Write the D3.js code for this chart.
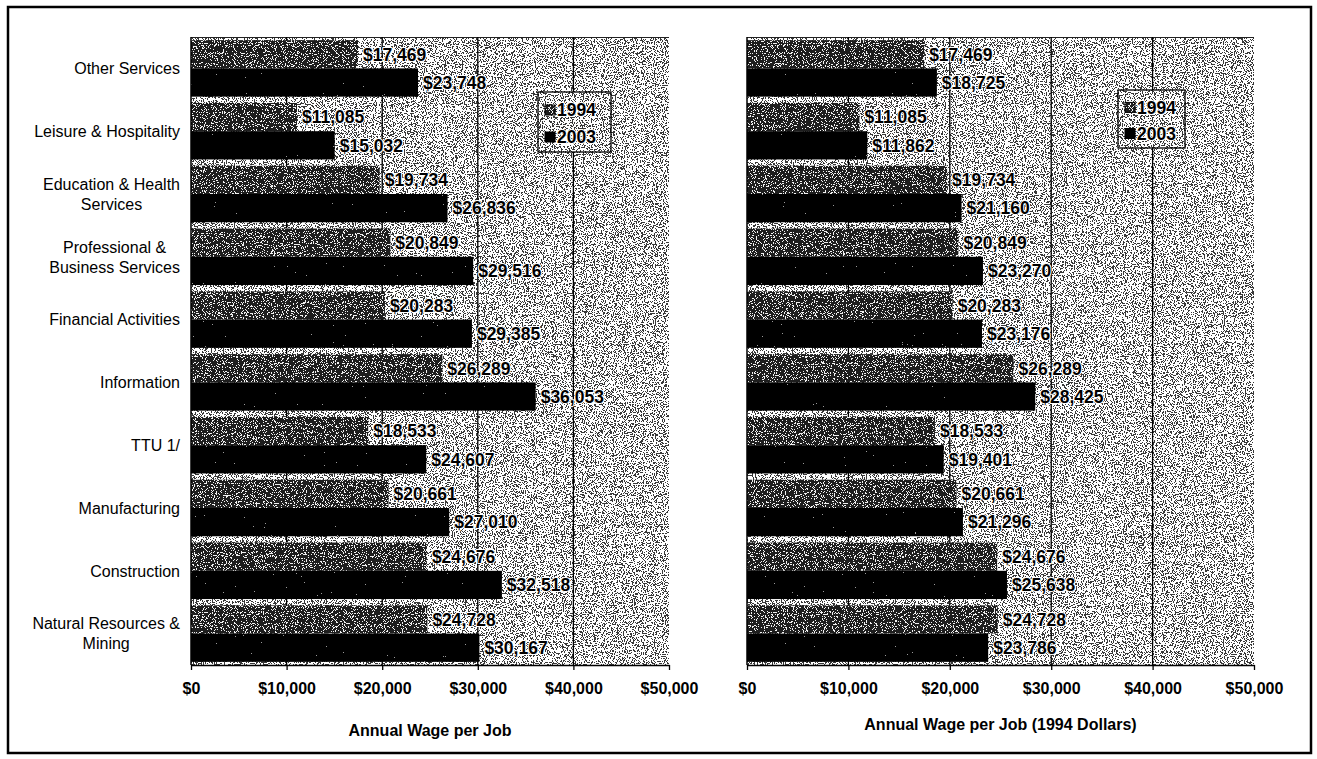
<!DOCTYPE html>
<html>
<head>
<meta charset="utf-8">
<script src="https://cdn.jsdelivr.net/npm/d3@7"></script>
<style>
  html, body { margin: 0; padding: 0; background: #fff; }
  svg { display: block; font-family: "Liberation Sans", Arial, sans-serif; }
</style>
</head>
<body>
<svg id="chart" width="1317" height="759"></svg>
<script>
// Industry categories (top to bottom) and their wrapped label lines
const categories = [
  "Other Services", "Leisure & Hospitality", "Education & Health Services",
  "Professional & Business Services", "Financial Activities", "Information",
  "TTU 1/", "Manufacturing", "Construction", "Natural Resources & Mining"
];
const categoryLines = [
  ["Other Services"], ["Leisure & Hospitality"], ["Education & Health", "Services"],
  ["Professional &", "Business Services"], ["Financial Activities"], ["Information"],
  ["TTU 1/"], ["Manufacturing"], ["Construction"], ["Natural Resources &", "Mining"]
];

// Annual wage per job, current dollars
const wage1994 = [17469, 11085, 19734, 20849, 20283, 26289, 18533, 20661, 24676, 24728];
const wage2003 = [23748, 15032, 26836, 29516, 29385, 36053, 24607, 27010, 32518, 30167];

// Annual wage per job, 1994 dollars
const real1994 = [17469, 11085, 19734, 20849, 20283, 26289, 18533, 20661, 24676, 24728];
const real2003 = [18725, 11862, 21160, 23270, 23176, 28425, 19401, 21296, 25638, 23786];

const seriesNames = ["1994", "2003"];
const tickValues = [0, 10000, 20000, 30000, 40000, 50000];
const axisTitles = ["Annual Wage per Job", "Annual Wage per Job (1994 Dollars)"];

const svg = d3.select("#chart");
const fmt = d => "$" + d3.format(",")(d);

// Stippled fills: thresholded noise clipped to each shape
const defs = svg.append("defs");
function grain(id, cut, dark, light, seed) {
  const f = defs.append("filter").attr("id", id)
    .attr("x", 0).attr("y", 0).attr("width", 1).attr("height", 1)
    .attr("color-interpolation-filters", "sRGB");
  f.append("feTurbulence").attr("type", "fractalNoise")
    .attr("baseFrequency", 0.9).attr("numOctaves", 2).attr("seed", seed).attr("result", "n");
  f.append("feColorMatrix").attr("in", "n").attr("type", "matrix")
    .attr("values", "1 0 0 0 0  1 0 0 0 0  1 0 0 0 0  0 0 0 0 1").attr("result", "g");
  const steps = 40;
  const table = d3.range(steps).map(i => (i / steps < cut ? dark : light)).join(" ");
  const ct = f.append("feComponentTransfer").attr("in", "g").attr("result", "t");
  ["feFuncR", "feFuncG", "feFuncB"].forEach(fn =>
    ct.append(fn).attr("type", "discrete").attr("tableValues", table));
  f.append("feComposite").attr("in", "t").attr("in2", "SourceGraphic").attr("operator", "in");
}
grain("grainBg", 0.43, 0.22, 1.0, 3);
grain("grain94", 0.58, 0.12, 0.95, 7);
grain("grain03", 0.82, 0.0, 0.6, 11);

// Outer frame
svg.append("rect").attr("x", 8).attr("y", 7).attr("width", 1303).attr("height", 746)
  .attr("fill", "none").attr("stroke", "#000").attr("stroke-width", 2.5);

const yTop = 37, yBot = 665;

function panel(opts) {
  const { x0, x1, v94, v03, title, legend, showCats } = opts;
  const x = d3.scaleLinear().domain([0, 50000]).range([x0, x1]);
  const y = d3.scaleBand().domain(categories).range([yTop, yBot])
    .paddingInner(0.1).paddingOuter(0.05);
  const bh = y.bandwidth() / 2;
  const g = svg.append("g");

  // plot area
  g.append("rect").attr("x", x0).attr("y", yTop).attr("width", x1 - x0).attr("height", yBot - yTop)
    .attr("fill", "#fff").attr("filter", "url(#grainBg)");
  g.append("line").attr("x1", x0).attr("x2", x1).attr("y1", yTop + 0.5).attr("y2", yTop + 0.5)
    .attr("stroke", "#222").attr("stroke-width", 1);

  // gridlines
  g.selectAll("line.grid").data(tickValues.slice(1, -1)).join("line").attr("class", "grid")
    .attr("x1", d => x(d)).attr("x2", d => x(d)).attr("y1", yTop).attr("y2", yBot)
    .attr("stroke", "#000").attr("stroke-width", 1.3);

  // bars
  const rows = categories.map((c, i) => ({ c, a: v94[i], b: v03[i] }));
  g.selectAll("rect.b94").data(rows).join("rect").attr("class", "b94")
    .attr("x", x(0)).attr("y", d => y(d.c)).attr("width", d => x(d.a) - x(0)).attr("height", bh)
    .attr("fill", "#fff").attr("filter", "url(#grain94)");
  g.selectAll("rect.b03").data(rows).join("rect").attr("class", "b03")
    .attr("x", x(0)).attr("y", d => y(d.c) + bh).attr("width", d => x(d.b) - x(0)).attr("height", bh)
    .attr("fill", "#fff").attr("filter", "url(#grain03)");

  // value labels
  const lbl = (sel, acc, off) => sel
    .attr("x", d => x(acc(d)) + 5).attr("y", d => y(d.c) + off + bh / 2).attr("dy", "0.36em")
    .attr("font-size", 17.5).attr("font-weight", "bold").attr("fill", "#000")
    .attr("stroke", "#fff").attr("stroke-width", 2).attr("paint-order", "stroke")
    .attr("stroke-linejoin", "round")
    .text(d => fmt(acc(d)));
  g.selectAll("text.l94").data(rows).join("text").attr("class", "l94").call(lbl, d => d.a, 0);
  g.selectAll("text.l03").data(rows).join("text").attr("class", "l03").call(lbl, d => d.b, bh);

  // axes
  g.append("line").attr("x1", x0).attr("x2", x0).attr("y1", yTop).attr("y2", yBot)
    .attr("stroke", "#000").attr("stroke-width", 1.5);
  const ax = g.append("g").attr("transform", `translate(0,${yBot})`)
    .call(d3.axisBottom(x).tickValues(tickValues).tickFormat(fmt).tickSize(5).tickSizeOuter(0).tickPadding(13));
  ax.select(".domain").attr("stroke", "#000").attr("stroke-width", 1.5);
  ax.selectAll(".tick line").attr("stroke", "#000").attr("stroke-width", 1.3);
  ax.selectAll(".tick text").attr("font-size", 16).attr("font-weight", "bold")
    .attr("font-family", "Liberation Sans, Arial, sans-serif").attr("fill", "#000");

  g.append("text").attr("x", (x0 + x1) / 2).attr("y", opts.titleY).attr("text-anchor", "middle")
    .attr("font-size", 16).attr("font-weight", "bold").text(title);

  // legend
  const L = g.append("g").attr("transform", `translate(${legend.x},${legend.y})`);
  L.append("rect").attr("width", legend.w).attr("height", legend.h)
    .attr("fill", "#fff").attr("filter", "url(#grainBg)");
  L.append("rect").attr("width", legend.w).attr("height", legend.h)
    .attr("fill", "none").attr("stroke", "#000").attr("stroke-width", 1.3);
  seriesNames.forEach((s, i) => {
    const cy = legend.h * (0.3 + 0.45 * i);
    L.append("rect").attr("x", 7).attr("y", cy - 5).attr("width", 10).attr("height", 10)
      .attr("fill", "#fff").attr("filter", i === 0 ? "url(#grain94)" : "url(#grain03)");
    L.append("rect").attr("x", 7).attr("y", cy - 5).attr("width", 10).attr("height", 10)
      .attr("fill", "none").attr("stroke", "#000").attr("stroke-width", 1);
    L.append("text").attr("x", 19).attr("y", cy).attr("dy", "0.36em")
      .attr("font-size", 17.5).attr("font-weight", "bold")
      .attr("stroke", "#fff").attr("stroke-width", 2).attr("paint-order", "stroke")
      .text(s);
  });

  // category labels: wrapped lines centred within a right-aligned block
  if (showCats) {
    const right = 180, lh = 20;
    categoryLines.forEach((lines, i) => {
      const cy = y(categories[i]) + y.bandwidth() / 2;
      const t = g.append("g");
      const texts = lines.map((ln, j) => t.append("text")
        .attr("y", cy + (j - (lines.length - 1) / 2) * lh).attr("dy", "0.36em")
        .attr("font-size", 16).attr("text-anchor", "middle").text(ln));
      const w = d3.max(texts, tx => tx.node().getComputedTextLength());
      texts.forEach(tx => tx.attr("x", right - w / 2));
    });
  }
}

panel({ x0: 191, x1: 669, v94: wage1994, v03: wage2003, title: axisTitles[0], titleY: 736,
        legend: { x: 538, y: 92, w: 73, h: 60 }, showCats: true });
panel({ x0: 747, x1: 1254, v94: real1994, v03: real2003, title: axisTitles[1], titleY: 730,
        legend: { x: 1118, y: 90, w: 67, h: 58 }, showCats: false });
</script>
</body>
</html>
